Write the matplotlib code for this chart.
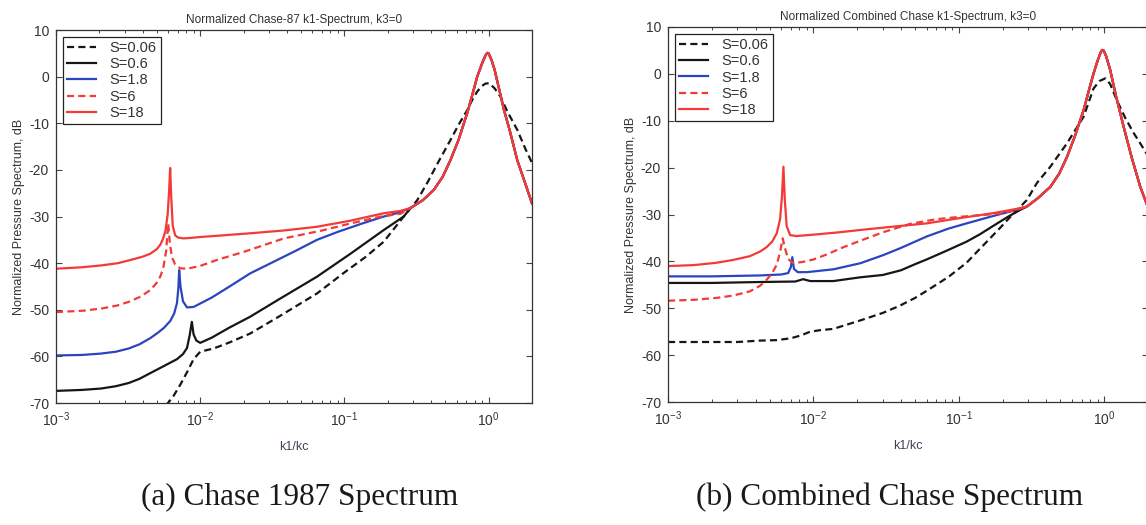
import matplotlib
matplotlib.use("Agg")
import matplotlib.pyplot as plt
import numpy as np
from matplotlib.ticker import FixedLocator, FixedFormatter, LogLocator, NullFormatter

plt.rcParams['font.family'] = ['Liberation Sans', 'DejaVu Sans']
plt.rcParams['mathtext.fontset'] = 'custom'
plt.rcParams['mathtext.rm'] = 'Liberation Sans'
plt.rcParams['mathtext.it'] = 'Liberation Sans'
plt.rcParams['axes.unicode_minus'] = False

# ---------------- data ----------------
series_labels = ['S=0.06', 'S=0.6', 'S=1.8', 'S=6', 'S=18']
x_ticks = [1e-3, 1e-2, 1e-1, 1e0]
x_tick_labels = ['$10^{-3}$', '$10^{-2}$', '$10^{-1}$', '$10^{0}$']
y_ticks = [-70, -60, -50, -40, -30, -20, -10, 0, 10]

# (a) Chase 1987 -- common high-wavenumber part shared by S=0.6..18
a_tail_k = [0.287, 0.35, 0.417, 0.48, 0.544, 0.62, 0.711, 0.77, 0.834, 0.9, 0.95, 0.98,
            1.0, 1.05, 1.1, 1.2, 1.28, 1.4, 1.58, 1.8, 2.0]
a_tail_db = [-28.2, -26.5, -24.3, -21.5, -17.9, -13.5, -7.8, -4.0, 0.0, 2.8, 4.5, 5.1,
             5.0, 3.5, 1.5, -3.5, -7.2, -11.5, -17.9, -23.0, -27.2]

a_s006_k = [5.8e-3, 6.5e-3, 7.3e-3, 8.1e-3, 9.0e-3, 1.0e-2, 1.24e-2, 1.6e-2, 2.22e-2, 3.5e-2,
            6.46e-2, 0.1, 0.14, 0.1875, 0.258, 0.32, 0.38, 0.45, 0.544, 0.62, 0.711, 0.77, 0.834,
            0.9, 0.95, 1.01, 1.1, 1.21, 1.35, 1.58, 1.8, 2.0]
a_s006_db = [-70.5, -68.6, -66.0, -63.4, -60.6, -59.0, -58.3, -57.0, -55.1, -51.5,
             -46.5, -42.0, -38.7, -35.4, -30.0, -26.5, -22.5, -18.2, -13.6, -10.3, -7.2, -5.0, -3.2,
             -2.0, -1.5, -1.4, -2.5, -4.3, -7.5, -11.4, -15.5, -18.5]

a_s06_k = [1e-3, 1.5e-3, 2.05e-3, 2.6e-3, 3.2e-3, 3.8e-3, 4.5e-3, 5.5e-3, 6.9e-3, 7.6e-3, 8.1e-3,
           8.45e-3, 8.75e-3, 9.0e-3, 9.4e-3, 1.0e-2, 1.2e-2, 1.6e-2, 2.22e-2, 3.5e-2, 6.46e-2,
           0.11, 0.1875, 0.258]
a_s06_db = [-67.4, -67.2, -66.9, -66.4, -65.7, -64.8, -63.6, -62.2, -60.6, -59.5, -58.2,
            -55.5, -52.6, -55.3, -56.6, -57.1, -56.0, -53.8, -51.5, -47.8, -42.9,
            -38.0, -32.9, -30.0]

a_s18b_k = [1e-3, 1.5e-3, 2.05e-3, 2.6e-3, 3.2e-3, 3.8e-3, 4.5e-3, 5.1e-3, 5.6e-3, 6.2e-3, 6.6e-3,
            6.9e-3, 7.05e-3, 7.15e-3, 7.3e-3, 7.6e-3, 8.1e-3, 9.0e-3, 1.2e-2, 1.6e-2, 2.22e-2,
            3.0e-2, 4.5e-2, 6.46e-2, 9.0e-2, 0.13, 0.1875, 0.23]
a_s18b_db = [-59.8, -59.7, -59.4, -59.0, -58.3, -57.4, -56.1, -54.9, -53.9, -52.4, -50.8,
             -48.6, -45.5, -41.5, -45.0, -48.2, -49.5, -49.4, -47.4, -45.0, -42.2,
             -40.2, -37.5, -35.0, -33.3, -31.6, -30.0, -29.3]

a_s6_k = [1e-3, 1.55e-3, 2.1e-3, 2.65e-3, 3.2e-3, 3.85e-3, 4.5e-3, 5.0e-3, 5.3e-3, 5.55e-3,
          5.8e-3, 6.0e-3, 6.15e-3, 6.35e-3, 6.7e-3, 7.26e-3, 8.1e-3, 1.0e-2, 1.31e-2, 2.0e-2,
          3.8e-2, 0.07, 0.11, 0.18, 0.245]
a_s6_db = [-50.5, -50.2, -49.7, -49.1, -48.3, -47.2, -45.8, -44.2, -42.8, -41.0,
           -37.5, -31.5, -35.5, -38.6, -40.3, -41.1, -41.2, -40.6, -39.3, -37.6,
           -34.7, -33.0, -31.5, -30.0, -29.4]

a_s18_k = [1e-3, 1.5e-3, 2.05e-3, 2.7e-3, 3.5e-3, 4.0e-3, 4.5e-3, 5.0e-3, 5.3e-3, 5.55e-3,
           5.75e-3, 5.95e-3, 6.1e-3, 6.19e-3, 6.3e-3, 6.45e-3, 6.7e-3, 7.0e-3, 7.65e-3, 8.5e-3,
           1.0e-2, 1.5e-2, 2.22e-2, 3.8e-2, 6.46e-2, 0.11, 0.1875, 0.245]
a_s18_db = [-41.2, -40.9, -40.5, -40.0, -39.1, -38.6, -38.0, -37.0, -36.0, -34.6,
            -33.0, -29.5, -24.0, -19.6, -26.0, -32.0, -34.0, -34.5, -34.7, -34.6,
            -34.4, -34.0, -33.6, -33.0, -32.2, -30.9, -29.3, -28.8]

# (b) Combined Chase -- common high-wavenumber part shared by S=0.6..18
b_tail_k = [0.294, 0.35, 0.426, 0.49, 0.555, 0.63, 0.722, 0.78, 0.845, 0.9, 0.94, 0.966,
            0.99, 1.03, 1.1, 1.2, 1.36, 1.55, 1.77, 2.0]
b_tail_db = [-28.3, -26.5, -24.1, -21.3, -17.7, -13.2, -7.7, -3.8, 0.1, 2.8, 4.4, 5.1,
             5.0, 3.8, 0.8, -4.5, -11.3, -18.0, -24.1, -28.5]

b_s006_k = [1e-3, 2e-3, 3e-3, 4.3e-3, 5.6e-3, 7.0e-3, 8.2e-3, 9.5e-3, 1.1e-2, 1.37e-2, 2.1e-2,
            3.0e-2, 3.9e-2, 5.0e-2, 6.0e-2, 8.5e-2, 0.113, 0.133, 0.165, 0.193, 0.226, 0.294,
            0.344, 0.426, 0.555, 0.722, 0.845, 0.93, 1.02, 1.1, 1.22, 1.4, 1.6, 1.8, 2.0]
b_s006_db = [-57.2, -57.2, -57.2, -56.9, -56.8, -56.4, -55.8, -55.0, -54.7, -54.4, -52.6,
             -51.0, -49.5, -47.8, -46.3, -43.3, -40.3, -38.0, -35.0, -32.8, -30.5, -26.9,
             -23.3, -19.8, -14.8, -9.1, -3.1, -1.5, -0.95, -2.2, -5.6, -9.5, -12.7, -15.2, -17.5]

b_s06_k = [1e-3, 2e-3, 4.3e-3, 7.5e-3, 8.5e-3, 9.5e-3, 1.37e-2, 2.1e-2, 3.0e-2, 4.0e-2, 5.0e-2,
           6.0e-2, 8.0e-2, 0.113, 0.14, 0.173, 0.22, 0.265]
b_s06_db = [-44.6, -44.6, -44.4, -44.3, -43.8, -44.2, -44.2, -43.4, -42.9, -41.9, -40.6,
            -39.6, -37.9, -35.8, -34.2, -32.4, -30.4, -29.0]

b_s18b_k = [1e-3, 2e-3, 4.3e-3, 6.0e-3, 6.7e-3, 7.0e-3, 7.16e-3, 7.35e-3, 7.8e-3, 9e-3, 1.37e-2,
            2.1e-2, 3.0e-2, 3.95e-2, 6.0e-2, 8.5e-2, 0.113, 0.173, 0.23]
b_s18b_db = [-43.2, -43.2, -43.0, -42.8, -42.5, -41.2, -39.1, -41.6, -42.3, -42.3, -41.7,
             -40.4, -38.7, -37.2, -34.7, -33.0, -31.9, -30.3, -29.3]

b_s6_k = [1e-3, 1.5e-3, 2.15e-3, 2.8e-3, 3.65e-3, 4.3e-3, 4.75e-3, 5.2e-3, 5.6e-3, 5.9e-3,
          6.15e-3, 6.35e-3, 6.7e-3, 7.3e-3, 8.5e-3, 1.0e-2, 1.24e-2, 1.6e-2, 2.1e-2, 3.0e-2,
          4.63e-2, 0.07, 0.102, 0.193, 0.25]
b_s6_db = [-48.4, -48.2, -47.8, -47.3, -46.4, -45.2, -44.0, -42.5, -40.7, -38.0,
           -35.1, -37.0, -39.5, -40.4, -40.1, -39.6, -38.5, -37.0, -35.6, -33.8,
           -32.0, -31.0, -30.5, -29.8, -29.0]

b_s18_k = [1e-3, 1.5e-3, 2.15e-3, 2.8e-3, 3.65e-3, 4.3e-3, 4.75e-3, 5.2e-3, 5.6e-3, 5.9e-3,
           6.08e-3, 6.22e-3, 6.36e-3, 6.55e-3, 6.92e-3, 7.6e-3, 1.0e-2, 1.5e-2, 2.1e-2, 3.5e-2,
           6.0e-2, 0.1, 0.173, 0.25]
b_s18_db = [-41.0, -40.8, -40.3, -39.7, -38.9, -37.9, -37.0, -35.8, -34.0, -31.0,
            -26.0, -19.8, -27.0, -32.5, -34.4, -34.6, -34.3, -33.8, -33.3, -32.6,
            -31.9, -30.8, -29.7, -28.8]

# ---------------- style ----------------
RED = '#f23a36'
BLUE = '#2a45bf'
BLACK = '#161616'
TXT = '#333333'
LW = 1.6
DASH = (3.2, 1.9)

fig = plt.figure(figsize=(11.46, 5.25), dpi=100)
W, H = 1146.0, 525.0
ax_a = fig.add_axes([56 / W, 1 - 403 / H, (532 - 56) / W, (403 - 30) / H])
ax_b = fig.add_axes([668 / W, 1 - 402 / H, (1148 - 668) / W, (402 - 27) / H])


def draw(ax, data, title):
    styles = [
        dict(color=BLACK, ls='--', dashes=DASH),
        dict(color=BLACK, ls='-'),
        dict(color=BLUE, ls='-'),
        dict(color=RED, ls='--', dashes=DASH),
        dict(color=RED, ls='-'),
    ]
    handles = []
    for (k, db), lab, st in zip(data, series_labels, styles):
        h, = ax.plot(k, db, lw=LW, label=lab, **st)
        handles.append(h)
    ax.set_xscale('log')
    ax.set_xlim(1e-3, 2.0)
    ax.set_ylim(-70, 10)
    ax.xaxis.set_major_locator(FixedLocator(x_ticks))
    ax.xaxis.set_major_formatter(FixedFormatter(x_tick_labels))
    ax.xaxis.set_minor_locator(LogLocator(base=10, subs=np.arange(2, 10), numticks=20))
    ax.xaxis.set_minor_formatter(NullFormatter())
    ax.set_yticks(y_ticks)
    ax.tick_params(which='both', direction='in', top=True, right=True,
                   labelsize=10, colors='#444444', labelcolor=TXT)
    ax.tick_params(which='major', length=4, width=0.8, pad=5)
    ax.tick_params(which='minor', length=2.5, width=0.7)
    for s in ax.spines.values():
        s.set_color('#333333')
        s.set_linewidth(0.9)
    ax.set_title(title, fontsize=8.5, color=TXT, pad=5)
    ax.set_xlabel('k1/kc', fontsize=9, color='#4a3f5a', labelpad=9)
    ax.set_ylabel('Normalized Pressure Spectrum, dB', fontsize=9, color=TXT, labelpad=3)
    leg = ax.legend(handles=handles, loc='upper left',
                    bbox_to_anchor=(0.014, 0.982), borderaxespad=0,
                    fontsize=10.5, frameon=True, fancybox=False, framealpha=1,
                    edgecolor='#222222', handlelength=2.0, handletextpad=0.9,
                    labelspacing=0.15, borderpad=0.3)
    leg.get_frame().set_linewidth(0.9)
    for t in leg.get_texts():
        t.set_color(TXT)


data_a = [
    (a_s006_k, a_s006_db),
    (a_s06_k + a_tail_k, a_s06_db + a_tail_db),
    (a_s18b_k + a_tail_k, a_s18b_db + a_tail_db),
    (a_s6_k + a_tail_k, a_s6_db + a_tail_db),
    (a_s18_k + a_tail_k, a_s18_db + a_tail_db),
]
data_b = [
    (b_s006_k, b_s006_db),
    (b_s06_k + b_tail_k, b_s06_db + b_tail_db),
    (b_s18b_k + b_tail_k, b_s18b_db + b_tail_db),
    (b_s6_k + b_tail_k, b_s6_db + b_tail_db),
    (b_s18_k + b_tail_k, b_s18_db + b_tail_db),
]

draw(ax_a, data_a, 'Normalized Chase-87 k1-Spectrum, k3=0')
draw(ax_b, data_b, 'Normalized Combined Chase k1-Spectrum, k3=0')

fig.text(300 / W, 1 - 497 / H, '(a) Chase 1987 Spectrum', ha='center', va='center',
         fontsize=22.5, family=['Liberation Serif', 'DejaVu Serif'], color='#1a1a1a')
fig.text(890 / W, 1 - 497 / H, '(b) Combined Chase Spectrum', ha='center', va='center',
         fontsize=22.5, family=['Liberation Serif', 'DejaVu Serif'], color='#1a1a1a')

fig.savefig('out.png', dpi=100)
